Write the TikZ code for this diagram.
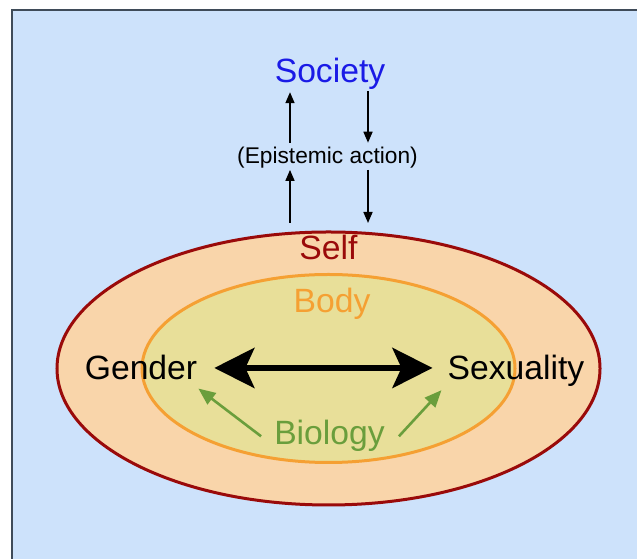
\documentclass[tikz,border=0pt]{standalone}
\usepackage{fontspec}
\setmainfont{Liberation Sans}
\usepackage{tikz}
\usetikzlibrary{positioning}
\usetikzlibrary{shapes.geometric}
\usetikzlibrary{arrows.meta}

\definecolor{bgblue}{HTML}{CDE2FB}
\definecolor{bgframe}{HTML}{3F4B59}
\definecolor{selffill}{HTML}{F9D5AA}
\definecolor{selfred}{HTML}{9A0A0A}
\definecolor{bodyfill}{HTML}{E8DF99}
\definecolor{bodyorange}{HTML}{F5A033}
\definecolor{socblue}{HTML}{1A1AE6}
\definecolor{biogreen}{HTML}{6A9E3C}

\tikzset{
  lbl/.style = {font=\fontsize{33.8}{39}\selectfont, inner sep=1bp},
  ring/.style = {ellipse, line width=3bp, inner sep=0pt},
  thin arrow/.style = {line width=1.6bp, -{Triangle[length=11bp,width=9bp]}},
  bio arrow/.style = {biogreen, line width=2.6bp, -{Triangle[length=17bp,width=14bp]}},
  bighead/.tip = {Stealth[length=40bp,width=40bp,inset=9bp]},
}

\begin{document}
\begin{tikzpicture}[x=1bp, y=1bp]
		\useasboundingbox (0,0) rectangle (637,559);
		\draw[fill=bgblue, draw=bgframe, line width=1.2bp] (12,-10) rectangle (660,549);
		\node[ring, draw=selfred, fill=selffill, minimum width=543bp, minimum height=273bp] at (328.5,190.5) (selfring) {};
		\node[ring, draw=bodyorange, fill=bodyfill, minimum width=373bp, minimum height=188bp] at (328.5,190.5) (bodyring) {};
		\node[lbl, below = 3bp of selfring.north, text=selfred] (self) {Self};
		\node[lbl, below = 13.5bp of bodyring.north, xshift=3.5bp, text=bodyorange] (body) {Body};
		\node[lbl, anchor=base, text=socblue] at (330,476) (soc) {Society};
		\node[font=\fontsize{22.8}{27}\selectfont, inner sep=1bp, anchor=base] at (327.5,395) (epi) {(Epistemic action)};
		\node[lbl, anchor=base] at (141,179) (gen) {Gender};
		\node[lbl, anchor=base] at (516,179) (sex) {Sexuality};
		\node[lbl, anchor=base, text=biogreen] at (329.5,114) (bio) {Biology};
		\coordinate (lx) at (290,0);
		\coordinate (rx) at (368,0);
		% up to society, down to self
		\draw[thin arrow, shorten <=3.6bp, shorten >=1bp] (epi.north -| lx) -- (soc.south -| lx);
		\draw[thin arrow, shorten <=7.5bp] (selfring.north -| lx) -- (epi.south -| lx);
		\draw[thin arrow, shorten >=3.6bp] (soc.south -| rx) -- (epi.north -| rx);
		\draw[thin arrow, shorten >=7.5bp] (epi.south -| rx) -- (selfring.north -| rx);
		% gender <-> sexuality
		\draw[line width=6bp, bighead-bighead, shorten <=16bp, shorten >=14bp] (gen.east) -- (gen.east -| sex.west);
		\draw[bio arrow] ([xshift=-12bp]bio.west) -- ([shift={(0bp,-7bp)}]gen.south east);
		\draw[bio arrow] ([xshift=13bp]bio.east) -- ([shift={(-5bp,-2bp)}]sex.south west);
	\end{tikzpicture}
\end{document}
